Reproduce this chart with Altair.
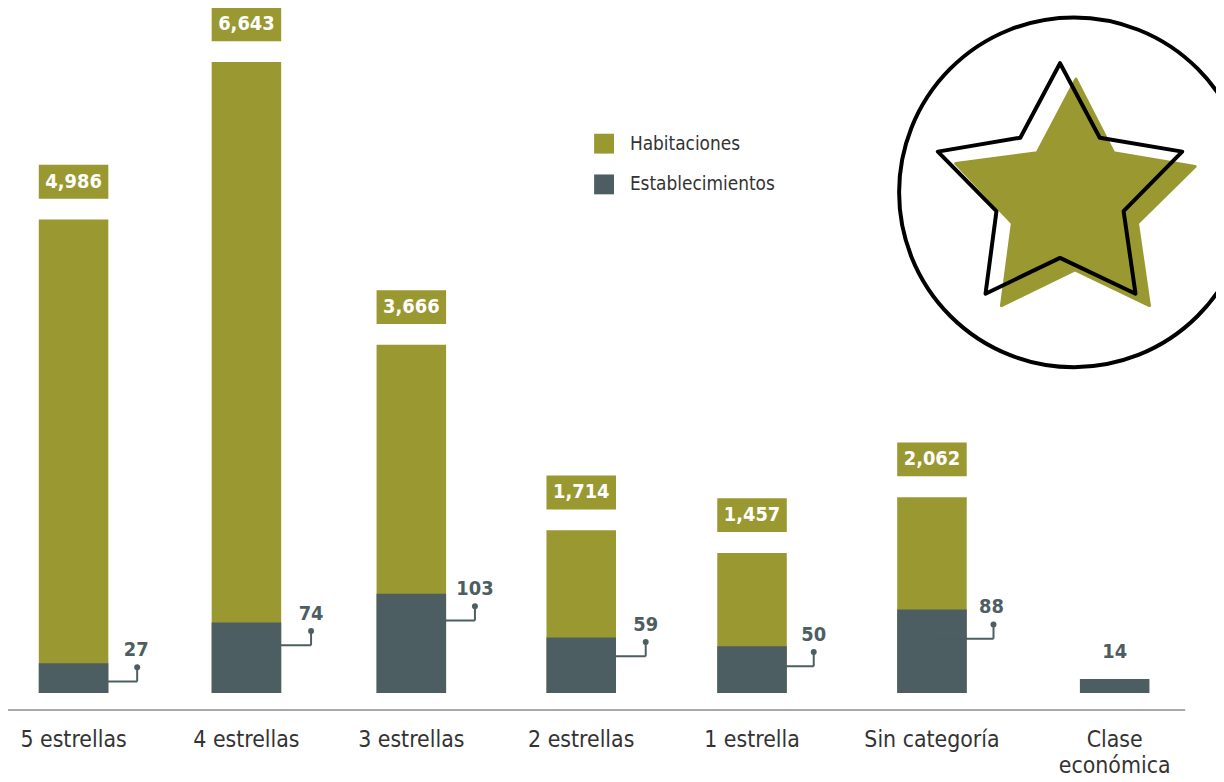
import altair as alt
import pandas as pd

categories = ["5 estrellas", "4 estrellas", "3 estrellas", "2 estrellas", "1 estrella", "Sin categoría", "Clase\neconómica"]
slots = [0, 1, 1.954, 2.937, 3.925, 4.966, 6.023]

hab_cats = categories[:6]
hab_slots = slots[:6]
hab_labels = [4986, 6643, 3666, 1714, 1457, 2062]
hab_heights = [4986, 6643, 3666, 1714, 1475, 2062]

est_labels = [27, 74, 103, 59, 50, 88, 14]
est_heights = [31.2, 74, 104, 58.3, 49, 87.5, 14.6]
elbow_values = [12, 50, 76, 38.5, 28, 57, None]
tip_slots = [0.368, 1.374, 2.322, 3.310, 4.282, 5.322, None]
est_label_slots = [0.362, 1.374, 2.322, 3.310, 4.282, 5.31, 6.023]

OLIVE = "#9a9931"
SLATE = "#4d5e62"
FONT = "DejaVu Sans Condensed, Roboto, sans-serif"
W, H = 1216, 774

hab = pd.DataFrame({"slot": hab_slots, "v": hab_heights, "lab": hab_labels, "serie": "Habitaciones"})
hab["txt"] = hab["lab"].map(lambda v: f"{v:,}")
est = pd.DataFrame({"slot": slots, "v": est_heights, "lab": est_labels, "elbow": elbow_values,
                    "tip": tip_slots, "ls": est_label_slots, "serie": "Establecimientos"})
cats = pd.DataFrame({"slot": slots, "c": categories})
conn = est.dropna(subset=["elbow"])

xs = alt.Scale(domain=[-0.3793, 6.6092], range=[0, W], nice=False, padding=0)
yo = alt.Scale(domain=[-910, 7186], range=[H, 0], nice=False, padding=0)
yd = alt.Scale(domain=[-90.6, 715.6], range=[H, 0], nice=False, padding=0)


def X(f="slot:Q"):
    return alt.X(f, scale=xs, axis=None)


def YO(f):
    return alt.Y(f, scale=yo, axis=None)


def YD(f):
    return alt.Y(f, scale=yd, axis=None)


color = alt.Color(
    "serie:N",
    scale=alt.Scale(domain=["Habitaciones", "Establecimientos"], range=[OLIVE, SLATE]),
    legend=alt.Legend(
        title=None, orient="none", legendX=590, legendY=124, symbolType="square", symbolSize=400,
        symbolStrokeWidth=0, labelFont=FONT, labelFontSize=19, labelColor="#333333", labelOffset=16,
        rowPadding=21, padding=0, symbolOpacity=1,
    ),
)

circle = alt.Chart(cats.head(1)).mark_point(
    shape="circle", size=123904, stroke="black", strokeWidth=4, fill=None, opacity=1, clip=True
).encode(x=alt.value(1073), y=alt.value(183))

olive_star = alt.Chart(cats.head(1)).mark_point(
    shape="M0,-111 L38,-37 L120,-23 L62,34 L74,117 L-1,81 L-75,117 L-64,34 L-121,-26 L-39,-37 Z",
    size=4, fill=OLIVE, stroke=OLIVE, strokeWidth=3, strokeJoin="round", filled=True, opacity=1,
).encode(x=alt.value(1075), y=alt.value(180))

outline_star = alt.Chart(cats.head(1)).mark_point(
    shape="M0,-128 L40,-53 L123,-39 L64,21 L76,104 L0,68 L-75,104 L-64,21 L-123,-39 L-40,-53 Z",
    size=4, stroke="black", strokeWidth=4, strokeJoin="round", fill=None, opacity=1,
).encode(x=alt.value(1059), y=alt.value(181))

hab_bars = alt.Chart(hab).mark_bar(size=70).encode(x=X(), y=YO("v:Q"), color=color)
est_bars = alt.Chart(est).mark_bar(size=70).encode(x=X(), y=YD("v:Q"), color=color)

hab_box = alt.Chart(hab).transform_calculate(
    top="datum.v + 55 / 0.0956", bot="datum.v + 21 / 0.0956"
).mark_bar(size=70, color=OLIVE).encode(x=X(), y=YO("top:Q"), y2="bot:Q")
hab_text = alt.Chart(hab).transform_calculate(mid="datum.v + 38 / 0.0956").mark_text(
    font=FONT, fontWeight="bold", fontSize=20, color="white", baseline="middle"
).encode(x=X(), y=YO("mid:Q"), text="txt:N")

h_rule = alt.Chart(conn).mark_rule(color=SLATE, strokeWidth=2).encode(x=X(), x2="tip:Q", y=YD("elbow:Q"))
v_rule = alt.Chart(conn).transform_calculate(dot="datum.elbow + 15") .mark_rule(color=SLATE, strokeWidth=2).encode(
    x=X("tip:Q"), y=YD("elbow:Q"), y2="dot:Q")
dots = alt.Chart(conn).transform_calculate(dot="datum.elbow + 15").mark_circle(size=36, color=SLATE, opacity=1).encode(
    x=X("tip:Q"), y=YD("dot:Q"))
est_text = alt.Chart(est).transform_calculate(
    mid="datum.elbow === null ? datum.v + 28 : datum.elbow + 33"
).mark_text(font=FONT, fontWeight="bold", fontSize=20, color=SLATE, baseline="middle").encode(
    x=X("ls:Q"), y=YD("mid:Q"), text="lab:Q")

axis_line = alt.Chart(cats.head(1)).mark_rule(color="#8c8c8c", strokeWidth=1.5).encode(
    x=alt.value(0), x2=alt.value(1185), y=alt.value(704))
cat_text = alt.Chart(cats).mark_text(
    font=FONT, fontSize=23, color="#333333", lineBreak="\n", lineHeight=27, baseline="alphabetic"
).encode(x=X(), y=alt.value(741), text="c:N")

chart = alt.layer(
    circle, olive_star, outline_star, hab_bars, est_bars, hab_box, hab_text,
    h_rule, v_rule, dots, est_text, axis_line, cat_text,
).resolve_scale(y="independent").properties(
    width=W, height=H, padding=0, autosize=alt.AutoSizeParams(type="none")
).configure_view(stroke=None)

chart.save("out.html", embed_options={"renderer": "svg", "actions": False})
